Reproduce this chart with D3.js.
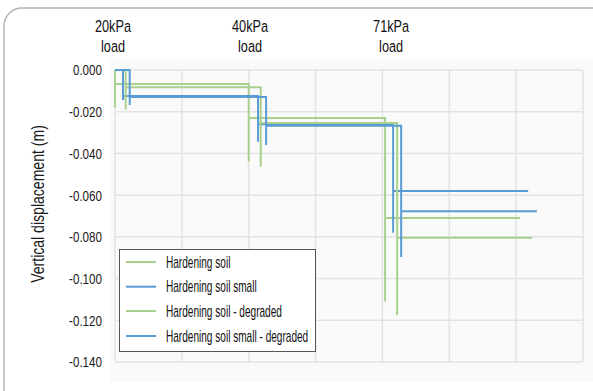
<!DOCTYPE html>
<html><head><meta charset="utf-8">
<script src="https://cdn.jsdelivr.net/npm/d3@7"></script>
<style>body{margin:0;background:#fff}svg{display:block}</style>
</head><body><svg id="c" width="593" height="391"></svg>
<script>
// ---- data ----
const seriesNames = ["Hardening soil", "Hardening soil small", "Hardening soil - degraded", "Hardening soil small - degraded"];
const seriesColors = ["#a9d18e", "#5b9bd5", "#a9d18e", "#5b9bd5"];
// time (arbitrary units) and vertical displacement (m)
const hsT   = [0, 0, 0, 2.00, 2.00, 2.00, 4.04, 4.04, 4.04, 6.06];
const hsY   = [0, -0.018, -0.0067, -0.0067, -0.044, -0.023, -0.023, -0.111, -0.071, -0.071];
const hssT  = [0, 0.12, 0.12, 0.12, 2.14, 2.14, 2.14, 4.16, 4.16, 4.16, 6.18];
const hssY  = [0, 0, -0.0144, -0.0125, -0.0125, -0.0344, -0.026, -0.026, -0.078, -0.058, -0.058];
const hsdT  = [0, 0.16, 0.16, 0.16, 2.18, 2.18, 2.18, 4.22, 4.22, 4.22, 6.24];
const hsdY  = [0, 0, -0.019, -0.0083, -0.0083, -0.0464, -0.0254, -0.0254, -0.1176, -0.0804, -0.0804];
const hssdT = [0, 0.22, 0.22, 0.22, 2.26, 2.26, 2.26, 4.28, 4.28, 4.28, 6.31];
const hssdY = [0, 0, -0.0168, -0.013, -0.013, -0.036, -0.0267, -0.0267, -0.0896, -0.0677, -0.0677];
const yTicks = [0, -0.02, -0.04, -0.06, -0.08, -0.10, -0.12, -0.14];
const xGrid = [0, 1, 2, 3, 4, 5, 6, 7];
const loadLabels = ["20kPa", "40kPa", "71kPa"];
const loadTimes = [-0.03, 2.02, 4.13];
const yTitle = "Vertical displacement (m)";

const seriesData = [[hsT, hsY], [hssT, hssY], [hsdT, hsdY], [hssdT, hssdY]]
  .map(([t, y]) => t.map((v, i) => [v, y[i]]));

// ---- drawing ----
const svg = d3.select("#c");
const FONT = "'Liberation Sans', Arial, sans-serif";
const x = d3.scaleLinear().domain([0, 7]).range([115, 583]);
const y = d3.scaleLinear().domain([-0.14, 0]).range([362, 70]);

// card
svg.append("rect").attr("x", 4).attr("y", 8).attr("width", 640).attr("height", 440)
  .attr("rx", 18).attr("fill", "#fff").attr("stroke", "#b5b5b5").attr("stroke-width", 1.5);
// plot area shading
svg.append("rect").attr("x", 110).attr("y", 60).attr("width", 490).attr("height", 322)
  .attr("fill", "#fafafa");

// grid
const g = svg.append("g");
g.selectAll(".hg").data(yTicks).join("line")
  .attr("x1", x(0)).attr("x2", x(7)).attr("y1", d => y(d)).attr("y2", d => y(d))
  .attr("stroke", "#e3e3e3").attr("stroke-width", 1.5);
g.selectAll(".vg").data(xGrid).join("line")
  .attr("x1", d => x(d)).attr("x2", d => x(d)).attr("y1", y(0)).attr("y2", y(-0.14))
  .attr("stroke", "#e3e3e3").attr("stroke-width", 1.5);

// y axis labels
const yAxis = d3.axisLeft(y).tickValues(yTicks).tickSize(0).tickPadding(0)
  .tickFormat(d => d3.format(".3f")(d).replace("\u2212", "-"));
const ya = svg.append("g").attr("transform", "translate(102,0)").call(yAxis);
ya.select(".domain").remove();
ya.selectAll("text").attr("font-family", FONT).attr("font-size", 15.5).attr("fill", "#1a1a1a")
  .attr("x", 0).attr("transform", "scale(0.75,1)");

// y title
svg.append("text").attr("transform", "translate(44,204) rotate(-90) scale(0.74,1)")
  .attr("text-anchor", "middle").attr("font-family", FONT).attr("font-size", 19).attr("fill", "#1a1a1a")
  .text(yTitle);

// load labels
loadLabels.forEach((l, i) => {
  const t = svg.append("text").attr("text-anchor", "middle").attr("font-family", FONT)
    .attr("font-size", 16.5).attr("fill", "#111")
    .attr("transform", `translate(${x(loadTimes[i])},0) scale(0.77,1)`);
  t.append("tspan").attr("x", 0).attr("y", 32).text(l);
  t.append("tspan").attr("x", 0).attr("y", 52).text("load");
});

// series
const line = d3.line().x(d => x(d[0])).y(d => y(d[1]));
svg.append("g").selectAll("path").data(seriesData).join("path")
  .attr("d", line).attr("fill", "none")
  .attr("stroke", (d, i) => seriesColors[i]).attr("stroke-width", 2);

// legend
const lg = svg.append("g");
lg.append("rect").attr("x", 119.5).attr("y", 249.5).attr("width", 196).attr("height", 102)
  .attr("fill", "#fff").attr("stroke", "#555").attr("stroke-width", 1);
const rows = [262, 286.7, 311, 336];
seriesNames.forEach((n, i) => {
  lg.append("line").attr("x1", 126).attr("x2", 156).attr("y1", rows[i]).attr("y2", rows[i])
    .attr("stroke", seriesColors[i]).attr("stroke-width", 2);
  lg.append("text").attr("transform", `translate(166,${rows[i]}) scale(0.63,1)`).attr("dy", "0.35em")
    .attr("font-family", FONT).attr("font-size", 16).attr("fill", "#111").text(n);
});
</script></body></html>
